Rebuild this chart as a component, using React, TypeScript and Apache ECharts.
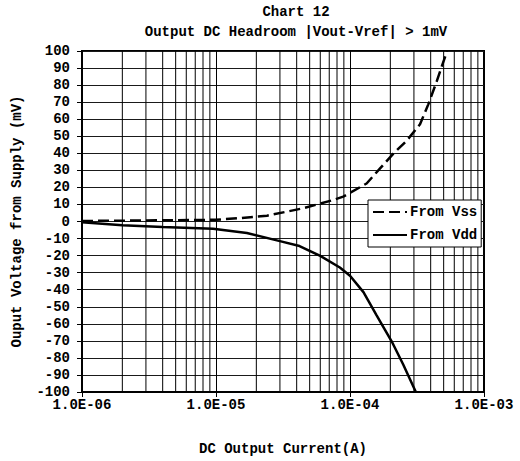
import React, { useEffect, useRef } from "react";
import * as echarts from "echarts";

// Data
const vssCurrent = [1e-6, 2e-6, 4e-6, 1e-5, 1.5e-5, 2.4e-5, 4.5e-5, 7.5e-5, 8.9e-5, 1.33e-4, 1.67e-4, 2.1e-4, 2.65e-4, 3.33e-4, 3.84e-4, 4.43e-4, 5.3e-4];
const vssMv = [0.3, 0.5, 0.7, 1.0, 2.0, 3.4, 7.8, 12.6, 14.6, 22.3, 31, 39.7, 47.4, 57, 68.7, 82, 100];

const vddCurrent = [1e-6, 2e-6, 4e-6, 9.5e-6, 1.7e-5, 3e-5, 4.2e-5, 6e-5, 8.4e-5, 1e-4, 1.26e-4, 1.58e-4, 2.05e-4, 2.5e-4, 3.1e-4];
const vddMv = [-0.5, -2.2, -3.2, -4.2, -6.7, -11.5, -14.4, -20.2, -27, -31.8, -41.4, -55, -70.4, -84, -100];

const decades = [1e-6, 1e-5, 1e-4];
const minorMultipliers = [2, 3, 4, 5, 6, 7, 8, 9];
const xRange = [1e-6, 1e-3];
const yRange = [-100, 100];

const seriesNames = ["From Vss", "From Vdd"];
const titleLines = ["Chart 12", "Output DC Headroom |Vout-Vref| > 1mV"];
const xAxisName = "DC Output Current(A)";
const yAxisName = "Ouput Voltage from Supply (mV)";

const FONT = "'Liberation Mono', 'DejaVu Sans Mono', monospace";

function fmtExp(v: number): string {
  const e = Math.round(Math.log10(v));
  const m = v / Math.pow(10, e);
  return m.toFixed(1) + "E" + (e < 0 ? "-" : "+") + String(Math.abs(e)).padStart(2, "0");
}

export default function App() {
  const ref = useRef<HTMLDivElement>(null);
  useEffect(() => {
    if (!ref.current) return;
    const chart = echarts.init(ref.current, null, { renderer: "svg" });
    const minorXs: number[] = [];
    decades.forEach((d) => minorMultipliers.forEach((k) => minorXs.push(k * d)));
    const minorSeries = minorXs.map((x, i) => ({
      name: "minor" + i,
      type: "line",
      z: 1,
      silent: true,
      symbol: "none",
      data: [[x, yRange[0]], [x, yRange[1]]],
      lineStyle: { color: "#000", width: 1, type: "solid" },
      emphasis: { disabled: true },
    }));
    const textBase = { fontFamily: FONT, fontWeight: "bold" as const, fontSize: 14, color: "#000" };
    chart.setOption({
      animation: false,
      backgroundColor: "#fff",
      title: [
        { text: titleLines[0], left: 291, top: 0, textAlign: "center", textStyle: { ...textBase } },
        { text: titleLines[1], left: 291, top: 20, textAlign: "center", textStyle: { ...textBase } },
      ],
      grid: { left: 82, width: 402, top: 51, height: 345, show: true, borderColor: "#000", borderWidth: 2, backgroundColor: "transparent" },
      legend: {
        data: seriesNames,
        orient: "vertical",
        left: 368,
        top: 200,
        padding: [5, 4, 5, 4],
        itemWidth: 34,
        itemHeight: 14,
        itemGap: 9,
        backgroundColor: "#fff",
        borderColor: "#000",
        borderWidth: 1,
        borderRadius: 0,
        itemStyle: { opacity: 0 },
        textStyle: { ...textBase, padding: [0, 0, 0, -2] },
        selectedMode: false,
      },
      xAxis: {
        type: "log",
        logBase: 10,
        min: xRange[0],
        max: xRange[1],
        name: xAxisName,
        nameLocation: "middle",
        nameGap: 50,
        nameTextStyle: { ...textBase },
        axisLine: { show: true, onZero: false, lineStyle: { color: "#000", width: 2 } },
        axisTick: { show: true, inside: false, length: 5, lineStyle: { color: "#000", width: 1 } },
        axisLabel: { ...textBase, margin: 6, formatter: (v: number) => fmtExp(v) },
        splitLine: { show: true, lineStyle: { color: "#000", width: 1 } },
      },
      yAxis: {
        type: "value",
        min: yRange[0],
        max: yRange[1],
        interval: 10,
        name: yAxisName,
        nameLocation: "middle",
        nameGap: 58,
        nameTextStyle: { ...textBase },
        axisLine: { show: true, onZero: false, lineStyle: { color: "#000", width: 2 } },
        axisTick: { show: true, inside: false, length: 5, lineStyle: { color: "#000", width: 1 } },
        axisLabel: { ...textBase, margin: 12, interval: 0 },
        splitLine: { show: true, lineStyle: { color: "#1a1a1a", width: 1 } },
      },
      series: [
        ...minorSeries,
        {
          name: seriesNames[0],
          type: "line",
          z: 3,
          symbol: "none",
          smooth: false,
          data: vssCurrent.map((x, i) => [x, vssMv[i]]),
          lineStyle: { color: "#000", width: 2.5, type: [11, 5] },
          itemStyle: { color: "#000" },
        },
        {
          name: seriesNames[1],
          type: "line",
          z: 3,
          symbol: "none",
          smooth: false,
          data: vddCurrent.map((x, i) => [x, vddMv[i]]),
          lineStyle: { color: "#000", width: 2.5, type: "solid" },
          itemStyle: { color: "#000" },
        },
      ],
    });
    return () => chart.dispose();
  }, []);
  return <div ref={ref} style={{ position: "fixed", left: 0, top: 0, width: 520, height: 461 }} />;
}
